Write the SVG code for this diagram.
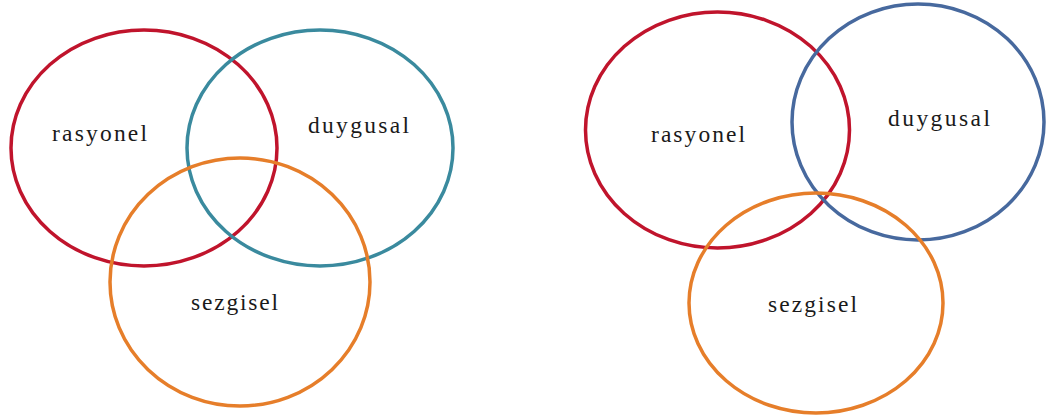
<svg xmlns="http://www.w3.org/2000/svg" width="1053" height="419" viewBox="0 0 1053 419">
<style>
.c{fill:none;stroke-width:3.5}
.red{stroke:#C0142C}
.teal{stroke:#3A8A9E}
.orange{stroke:#E67E2A}
.blue{stroke:#47699E}
text{font-family:"Liberation Serif","Times New Roman",serif;font-size:23.5px;fill:#1a1a1a}
</style>
<rect width="1053" height="419" fill="#fff"/>
<g id="left-diagram">
<g id="l-rasyonel"><ellipse class="c red" cx="144" cy="148" rx="133" ry="118"/><text x="52" y="141" textLength="95" lengthAdjust="spacing">rasyonel</text></g>
<g id="l-duygusal"><ellipse class="c teal" cx="320" cy="148" rx="133" ry="118"/><text x="308" y="133" textLength="101" lengthAdjust="spacing">duygusal</text></g>
<g id="l-sezgisel"><ellipse class="c orange" cx="240" cy="282" rx="130" ry="124"/><text x="191" y="310" textLength="87" lengthAdjust="spacing">sezgisel</text></g>
</g>
<g id="right-diagram">
<g id="r-rasyonel"><ellipse class="c red" cx="717.5" cy="130" rx="132" ry="118"/><text x="651" y="142" textLength="94" lengthAdjust="spacing">rasyonel</text></g>
<g id="r-duygusal"><ellipse class="c blue" cx="918" cy="122" rx="126" ry="118"/><text x="888" y="126" textLength="102" lengthAdjust="spacing">duygusal</text></g>
<g id="r-sezgisel"><ellipse class="c orange" cx="816" cy="303" rx="127" ry="110"/><text x="768" y="312" textLength="89" lengthAdjust="spacing">sezgisel</text></g>
</g>
<g id="connectors"/>
</svg>
